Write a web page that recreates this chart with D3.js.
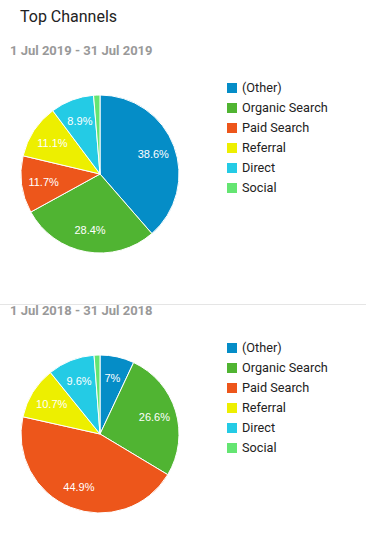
<!DOCTYPE html>
<html>
<head>
<meta charset="utf-8">
<script src="https://cdn.jsdelivr.net/npm/d3@7"></script>
<style>
  body { margin: 0; background: #fff; }
</style>
</head>
<body>
<div id="chart"></div>
<script>
var channels = ['(Other)', 'Organic Search', 'Paid Search', 'Referral', 'Direct', 'Social'];
var colors = ['#058dc7', '#50b432', '#ed561b', '#edef00', '#24cbe5', '#64e572'];
var periods = ['1 Jul 2019 - 31 Jul 2019', '1 Jul 2018 - 31 Jul 2018'];
var values2019 = [38.6, 28.4, 11.7, 11.1, 8.9, 1.3];
var values2018 = [7, 26.6, 44.9, 10.7, 9.6, 1.2];

var width = 366,
    height = 539,
    radius = 79;

var svg = d3.select('#chart').append('svg').attr('width', width).attr('height', height);

svg.append('text')
  .attr('x', 20)
  .attr('y', 22)
  .attr('font-family', 'Roboto')
  .attr('font-size', 16)
  .attr('fill', '#222')
  .text('Top Channels');

svg.append('line')
  .attr('x1', 0).attr('x2', width)
  .attr('y1', 304.5).attr('y2', 304.5)
  .attr('stroke', '#e5e5e5');

var color = d3.scaleOrdinal().domain(channels).range(colors);

var pie = d3.pie().sort(null).value(function(d) { return d.value; });
var arc = d3.arc().innerRadius(0).outerRadius(radius);
var labelArc = d3.arc().innerRadius(radius * 0.72).outerRadius(radius * 0.72);

function drawPanel(values, label, top) {
  var g = svg.append('g').attr('transform', 'translate(0,' + top + ')');

  g.append('text')
    .attr('x', 10)
    .attr('y', 0)
    .attr('font-family', 'Roboto')
    .attr('font-weight', 'bold')
    .attr('font-size', 13)
    .attr('fill', '#999')
    .text(label);

  var data = channels.map(function(c, i) { return { name: c, value: values[i] }; });
  var arcs = pie(data);

  var pg = g.append('g').attr('transform', 'translate(100,119)');

  pg.selectAll('path')
    .data(arcs)
    .enter().append('path')
    .attr('d', arc)
    .attr('fill', function(d) { return color(d.data.name); })
    .attr('stroke', '#fff')
    .attr('stroke-width', 1);

  pg.selectAll('text')
    .data(arcs.filter(function(d) { return d.data.value >= 5; }))
    .enter().append('text')
    .attr('transform', function(d) { return 'translate(' + labelArc.centroid(d) + ')'; })
    .attr('text-anchor', 'middle')
    .attr('dy', '0.35em')
    .attr('font-family', 'Liberation Sans, Arial')
    .attr('font-size', 11)
    .attr('fill', '#fff')
    .text(function(d) { return d.data.value + '%'; });

  var lg = g.selectAll('.legend')
    .data(channels)
    .enter().append('g')
    .attr('transform', function(d, i) { return 'translate(227,' + (28 + i * 20) + ')'; });

  lg.append('rect')
    .attr('width', 10).attr('height', 10)
    .attr('fill', function(d) { return color(d); });

  lg.append('text')
    .attr('x', 15)
    .attr('y', 5)
    .attr('dy', '0.35em')
    .attr('font-family', 'Roboto')
    .attr('font-size', 12.7)
    .attr('fill', '#222')
    .text(function(d) { return d; });
}

drawPanel(values2019, periods[0], 55);
drawPanel(values2018, periods[1], 315);
</script>
</body>
</html>
